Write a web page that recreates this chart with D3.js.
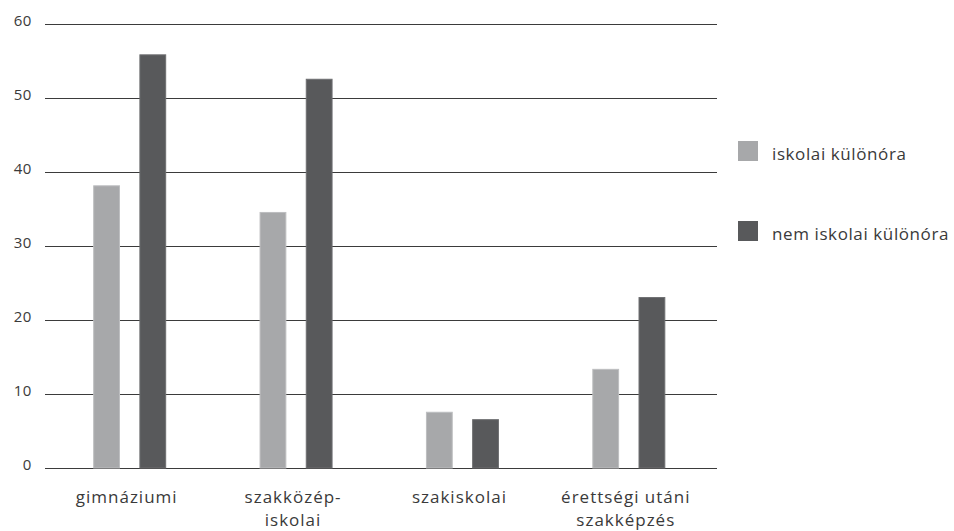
<!DOCTYPE html>
<html>
<head>
<meta charset="utf-8">
<script src="https://cdn.jsdelivr.net/npm/d3@7"></script>
<style>
  html, body { margin: 0; padding: 0; background: #fff; }
  svg { display: block; }
  text { font-family: "Open Sans", Lato, "DejaVu Sans", sans-serif; fill: #3a3a3a; }
</style>
</head>
<body>
<svg id="chart" width="954" height="531"></svg>
<script>
// ---- data ----
const categories = [["gimnáziumi"], ["szakközép-", "iskolai"], ["szakiskolai"], ["érettségi utáni", "szakképzés"]];
const seriesNames = ["iskolai különóra", "nem iskolai különóra"];
const iskolai = [38.2, 34.6, 7.6, 13.4];
const nemIskolai = [55.9, 52.6, 6.6, 23.1];
const yTicks = [0, 10, 20, 30, 40, 50, 60];
const colors = ["#a7a8aa", "#58595b"];
const strokes = ["#bdbec0", "#6e6f71"];

const series = [iskolai, nemIskolai];
const catKeys = categories.map(c => c.join(" "));

const svg = d3.select("#chart");

const y = d3.scaleLinear().domain([0, 60]).range([468, 24]);
const x = d3.scaleBand().domain(catKeys).range([46.5, 712]).padding(0);
const xi = d3.scaleBand().domain(seriesNames).range([-36.5, 36.5]).paddingInner(0.42).paddingOuter(0);

// gridlines
svg.append("g").selectAll("line").data(yTicks).join("line")
  .attr("x1", 45).attr("x2", 717)
  .attr("y1", d => Math.round(y(d)) + 0.5).attr("y2", d => Math.round(y(d)) + 0.5)
  .attr("stroke", "#3b3b3b").attr("stroke-width", 1);

// y tick labels
svg.append("g").selectAll("text").data(yTicks).join("text")
  .attr("x", 32).attr("y", d => y(d)).attr("dy", "0.1em")
  .attr("text-anchor", "end").attr("font-size", 15).style("letter-spacing", "0.6px")
  .text(d => d);

// bars
seriesNames.forEach((s, si) => {
  svg.append("g").selectAll("rect").data(series[si]).join("rect")
    .attr("x", (d, i) => x(catKeys[i]) + x.bandwidth() / 2 + xi(s) + 0.5)
    .attr("width", xi.bandwidth() - 1)
    .attr("y", d => y(d) + 0.5)
    .attr("height", d => y(0) - y(d) - 0.5)
    .attr("fill", colors[si])
    .attr("stroke", strokes[si]).attr("stroke-width", 1);
});

// x labels
const xl = svg.append("g").selectAll("text").data(categories).join("text")
  .attr("text-anchor", "middle").attr("font-size", 17).style("letter-spacing", "1px")
  .attr("x", (d, i) => x(catKeys[i]) + x.bandwidth() / 2 - 3)
  .attr("y", 503);
xl.each(function(d) {
  const t = d3.select(this);
  const cx = t.attr("x");
  d.forEach((line, li) => {
    t.append("tspan").attr("x", cx).attr("dy", li === 0 ? 0 : 23).text(line);
  });
});

// legend
const lg = svg.append("g").selectAll("g").data(seriesNames).join("g")
  .attr("transform", (d, i) => `translate(738, ${141 + i * 80})`);
lg.append("rect").attr("width", 20).attr("height", 20).attr("fill", (d, i) => colors[i]);
lg.append("text").attr("x", 34).attr("y", 19).attr("font-size", 17).style("letter-spacing", "0.6px").text(d => d);
</script>
</body>
</html>
